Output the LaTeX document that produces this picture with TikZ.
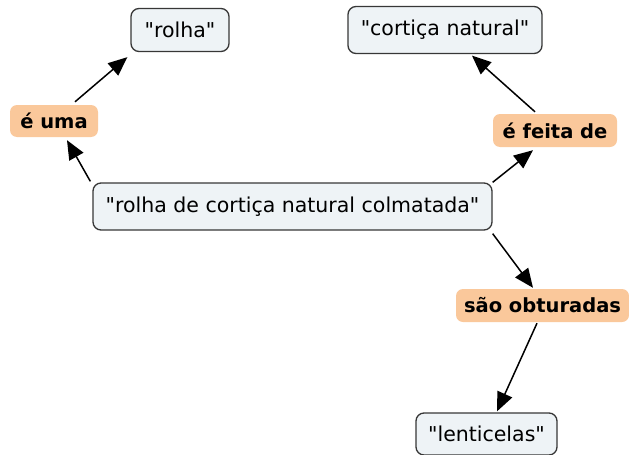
\documentclass[tikz,border=0pt]{standalone}
\usepackage{fontspec}
\setmainfont{DejaVu Sans}[Ligatures=TeXOff]
\usetikzlibrary{arrows.meta}
\definecolor{boxfill}{RGB}{238,243,246}
\definecolor{boxline}{RGB}{55,55,55}
\definecolor{peach}{RGB}{250,200,155}
\newcommand\dq{\char34\relax}
\tikzset{
  concept/.style={draw=boxline, line width=1.3pt, fill=boxfill, rounded corners=8pt, inner sep=0pt, font=\fontsize{20.5}{24}\selectfont},
  linkbox/.style={fill=peach, rounded corners=7pt, inner sep=0pt, font=\bfseries\fontsize{19.5}{23}\selectfont},
  conn/.style={line width=1.5pt, -{Triangle[length=19pt,width=16pt]}}
}
\begin{document}
\begin{tikzpicture}[x=1pt,y=-1pt]
\useasboundingbox (0,0) rectangle (629,455);
\node[concept, minimum width=98pt, minimum height=43pt] (rolha) at (180,30) {\dq rolha\dq};
\node[concept, minimum width=194pt, minimum height=47pt] (cortica) at (445,30) {\dq cortiça natural\dq};
\node[concept, minimum width=399pt, minimum height=47pt] (main) at (292.5,206.5) {\dq rolha de cortiça natural colmatada\dq};
\node[concept, minimum width=141pt, minimum height=42pt] (lent) at (486.5,434) {\dq lenticelas\dq};
\node[linkbox, minimum width=88pt, minimum height=32pt] (eu) at (54,121) {é uma};
\node[linkbox, minimum width=124pt, minimum height=33pt] (efd) at (555,130.5) {é feita de};
\node[linkbox, minimum width=173pt, minimum height=33pt] (sao) at (542.5,305.5) {são obturadas};
\draw[conn] ([xshift=-2pt,yshift=1pt]main.north west) -- ([xshift=13pt,yshift=-3pt]eu.south);
\draw[conn] ([xshift=21pt,yshift=3pt]eu.north) -- ([xshift=-3pt,yshift=-5pt]rolha.south west);
\draw[conn] ([yshift=0pt]main.north east) -- ([xshift=-22pt,yshift=-3pt]efd.south);
\draw[conn] ([xshift=-20pt,yshift=2pt]efd.north) -- ([xshift=27pt,yshift=-1.5pt]cortica.south);
\draw[conn] ([yshift=-3pt]main.south east) -- ([xshift=-9.5pt,yshift=1pt]sao.north);
\draw[conn] ([xshift=-5.5pt,yshift=-1pt]sao.south) -- ([xshift=10.5pt,yshift=1pt]lent.north);
\end{tikzpicture}
\end{document}
